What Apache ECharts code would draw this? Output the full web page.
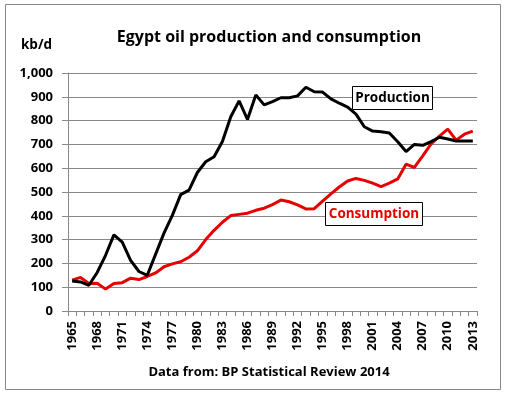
<!DOCTYPE html>
<html>
<head>
<meta charset="utf-8">
<script src="https://cdn.jsdelivr.net/npm/echarts@6/dist/echarts.min.js"></script>
<style>html,body{margin:0;padding:0;background:#fff}#c{width:507px;height:399px}</style>
</head>
<body>
<div id="c"></div>
<script>
const years = [];
for (let y = 1965; y <= 2013; y++) years.push(String(y));
const production = [126,122,108,162,234,320,289,213,166,150,239,327,402,489,508,582,627,648,712,816,883,805,908,866,880,896,896,904,940,921,920,891,873,857,827,774,756,753,748,711,670,700,696,712,730,723,714,714,714];
const consumption = [130,141,116,117,92,116,119,138,132,145,160,186,198,207,226,253,300,339,373,401,406,411,423,432,447,466,459,446,429,430,462,492,521,546,557,549,537,523,537,555,617,603,652,702,735,764,718,743,756];
const yTicks = {min: 0, max: 1000, interval: 100};
const titleText = 'Egypt oil production and consumption';
const unitText = 'kb/d';
const sourceText = 'Data from: BP Statistical Review 2014';

const FONT = '"Open Sans", "Liberation Sans", sans-serif';
const chart = echarts.init(document.getElementById('c'), null, {renderer: 'canvas'});
chart.setOption({
  animation: false,
  backgroundColor: '#fff',
  title: {
    text: titleText, left: 264, textAlign: 'center', top: 24,
    textStyle: {fontFamily: FONT, fontWeight: 'bold', fontSize: 16, color: '#000'}
  },
  grid: {left: 68, right: 30, top: 73, bottom: 88},
  xAxis: {
    type: 'category', data: years, boundaryGap: true,
    axisLine: {lineStyle: {color: '#888', width: 1}},
    axisTick: {show: true, interval: 0, length: 5, lineStyle: {color: '#888'}},
    axisLabel: {interval: 2, rotate: 90, fontFamily: FONT, fontWeight: 'bold', fontSize: 13, color: '#000', margin: 10}
  },
  yAxis: {
    type: 'value', min: yTicks.min, max: yTicks.max, interval: yTicks.interval,
    axisLine: {show: true, lineStyle: {color: '#888'}},
    axisTick: {show: true, length: 6, lineStyle: {color: '#888'}},
    splitLine: {lineStyle: {color: '#888', width: 1}},
    axisLabel: {
      fontFamily: FONT, fontWeight: 'bold', fontSize: 13, color: '#000', margin: 15,
      formatter: v => v.toLocaleString('en-US')
    }
  },
  series: [
    {name: 'Production', type: 'line', data: production, symbol: 'none',
     lineStyle: {color: '#000', width: 3}, itemStyle: {color: '#000'}, z: 3},
    {name: 'Consumption', type: 'line', data: consumption, symbol: 'none',
     lineStyle: {color: '#e80000', width: 3}, itemStyle: {color: '#e80000'}, z: 2}
  ],
  graphic: [
    {type: 'rect', shape: {x: 5.5, y: 4.5, width: 495, height: 385}, style: {fill: 'none', stroke: '#888', lineWidth: 1}, silent: true, z: -1},
    {type: 'text', left: 21, top: 38, style: {text: unitText, fontFamily: FONT, fontWeight: 'bold', fontSize: 13.5, fill: '#000'}},
    {type: 'text', x: 269, y: 372, style: {text: sourceText, fontFamily: FONT, fontWeight: 'bold', fontSize: 13, fill: '#000', align: 'center', verticalAlign: 'middle'}},
    {type: 'rect', shape: {x: 352.5, y: 86.5, width: 80, height: 23}, style: {fill: '#fff', stroke: '#000', lineWidth: 1}, z: 10},
    {type: 'text', x: 392.5, y: 98, z: 11, style: {text: 'Production', fontFamily: FONT, fontWeight: 'bold', fontSize: 13.5, fill: '#000', align: 'center', verticalAlign: 'middle'}},
    {type: 'rect', shape: {x: 325.5, y: 202.5, width: 97, height: 23}, style: {fill: '#fff', stroke: '#000', lineWidth: 1}, z: 10},
    {type: 'text', x: 374, y: 214, z: 11, style: {text: 'Consumption', fontFamily: FONT, fontWeight: 'bold', fontSize: 13.5, fill: '#e80000', align: 'center', verticalAlign: 'middle'}}
  ]
});
</script>
</body>
</html>
